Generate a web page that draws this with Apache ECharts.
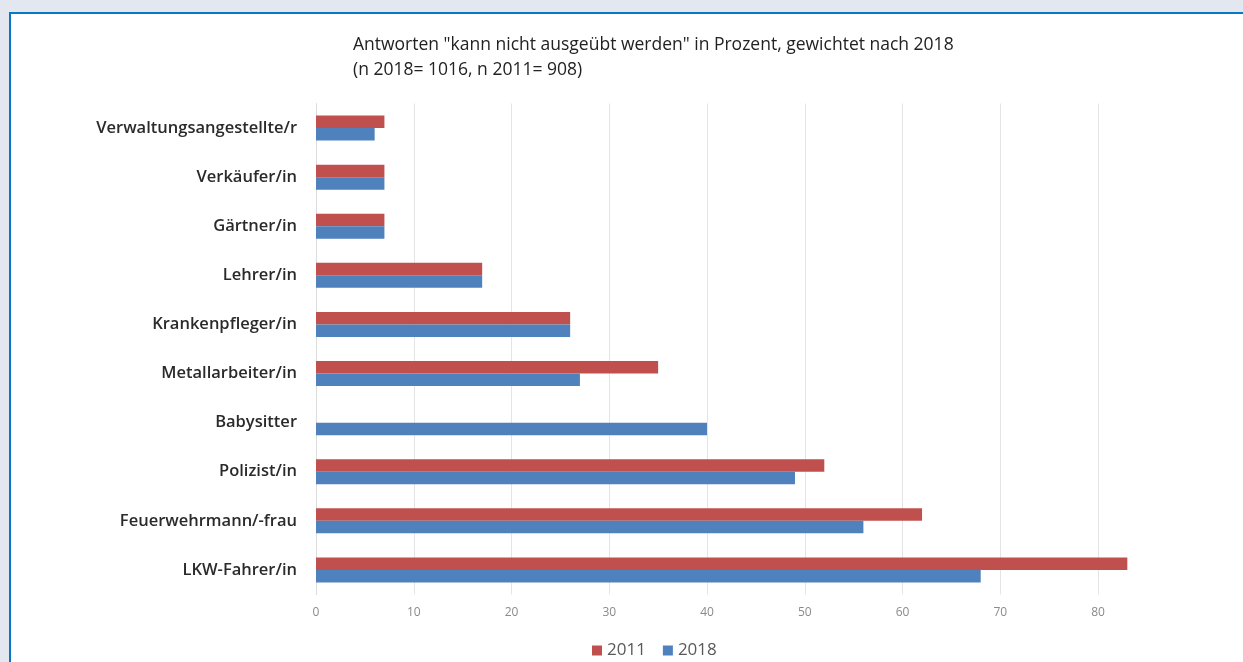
<!DOCTYPE html>
<html>
<head>
<meta charset="utf-8">
<script src="https://cdn.jsdelivr.net/npm/echarts@6/dist/echarts.min.js"></script>
<style>
html,body{margin:0;padding:0;width:1243px;height:662px;overflow:hidden;background:#e3e7ef;}
#frame{position:absolute;left:9px;top:12px;width:1260px;height:700px;background:#fff;border-left:2.5px solid #0a77c6;border-top:2.5px solid #0a77c6;}
#chart{position:absolute;left:0;top:0;width:1243px;height:662px;}
</style>
</head>
<body>
<div id="frame"></div>
<div id="chart"></div>
<script>
const categories = ["Verwaltungsangestellte/r","Verkäufer/in","Gärtner/in","Lehrer/in","Krankenpfleger/in","Metallarbeiter/in","Babysitter","Polizist/in","Feuerwehrmann/-frau","LKW-Fahrer/in"];
const values2011 = [7,7,7,17,26,35,null,52,62,83];
const values2018 = [6,7,7,17,26,27,40,49,56,68];
const xTicks = [0,10,20,30,40,50,60,70,80];
const titleLines = ['Antworten "kann nicht ausgeübt werden" in Prozent, gewichtet nach 2018','(n 2018= 1016, n 2011= 908)'];

const chart = echarts.init(document.getElementById('chart'), null, {renderer:'canvas'});
const font = '"Open Sans", "Noto Sans", sans-serif';
chart.setOption({
  backgroundColor: 'transparent',
  animation: false,
  title: {
    text: titleLines.join('\n'),
    left: 348, top: 28,
    textStyle: {fontFamily: font, fontSize: 17.5, fontWeight: 'normal', color: '#222', lineHeight: 25}
  },
  legend: {
    top: 637, left: 587,
    itemWidth: 10, itemHeight: 10, itemGap: 17,
    icon: 'rect',
    textStyle: {fontFamily: font, fontSize: 17, color: '#595959'},
    data: ['2011','2018']
  },
  grid: {left: 316, top: 103.5, width: 782, height: 491, containLabel: false},
  xAxis: {
    type: 'value', min: 0, max: 80, interval: 10,
    axisLine: {show: false}, axisTick: {show: false},
    splitLine: {lineStyle: {color: '#e4e4e4', width: 1}},
    axisLabel: {fontFamily: font, fontSize: 12, color: '#8a8a8a', margin: 12,
      formatter: v => xTicks.includes(v) ? String(v) : ''}
  },
  yAxis: {
    type: 'category', data: categories, inverse: true,
    axisLine: {show: true, lineStyle: {color: '#dcdcdc'}},
    axisTick: {show: false},
    axisLabel: {fontFamily: font, fontSize: 16.5, fontWeight: 600, color: '#2a2a2a', margin: 19}
  },
  series: [
    {name: '2011', type: 'bar', data: values2011, barGap: '0%', barCategoryGap: '49%', clip: false,
     itemStyle: {color: '#c0504d'}},
    {name: '2018', type: 'bar', data: values2018, barGap: '0%', barCategoryGap: '49%', clip: false,
     itemStyle: {color: '#4f81bd'}}
  ]
});
</script>
</body>
</html>
